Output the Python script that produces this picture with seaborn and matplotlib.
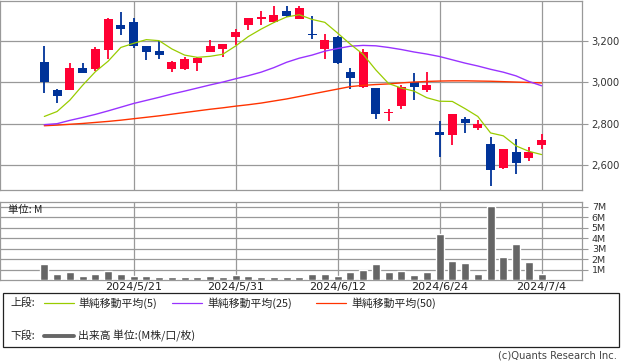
import matplotlib
matplotlib.use("Agg")
import matplotlib.pyplot as plt
from matplotlib.lines import Line2D
from matplotlib.patches import Rectangle
import seaborn as sns
import numpy as np
import pandas as pd

sns.set_theme(style="white")
plt.rcParams['font.family'] = ['DejaVu Sans', 'Noto Sans CJK JP']
CJK = ['Noto Sans CJK JP', 'DejaVu Sans']

# ---------------- data ----------------
dates = ["2024/5/10", "2024/5/13", "2024/5/14", "2024/5/15", "2024/5/16", "2024/5/17",
         "2024/5/20", "2024/5/21", "2024/5/22", "2024/5/23", "2024/5/24", "2024/5/27",
         "2024/5/28", "2024/5/29", "2024/5/30", "2024/5/31", "2024/6/3", "2024/6/4",
         "2024/6/5", "2024/6/6", "2024/6/7", "2024/6/10", "2024/6/11", "2024/6/12",
         "2024/6/13", "2024/6/14", "2024/6/17", "2024/6/18", "2024/6/19", "2024/6/20",
         "2024/6/21", "2024/6/24", "2024/6/25", "2024/6/26", "2024/6/27", "2024/6/28",
         "2024/7/1", "2024/7/2", "2024/7/3", "2024/7/4"]
opens = [3098, 2962, 2962, 3069, 3064, 3157, 3278, 3296, 3175, 3151,
         3064, 3064, 3093, 3146, 3161, 3220, 3278, 3308, 3292, 3345,
         3306, 3235, 3161, 3220, 3049, 2978, 2972, 2852, 2885, 3002,
         2962, 2762, 2746, 2822, 2780, 2701, 2586, 2662, 2634, 2697]
highs = [3175, 2967, 3093, 3093, 3170, 3311, 3340, 3311, 3175, 3200,
         3103, 3122, 3122, 3204, 3185, 3262, 3311, 3345, 3369, 3369,
         3369, 3321, 3233, 3228, 3070, 3161, 2972, 2870, 2986, 3045,
         3049, 2812, 2846, 2833, 2817, 2736, 2676, 2725, 2686, 2749]
lows = [2949, 2901, 2962, 3046, 3054, 3112, 3230, 3167, 3108, 3112,
        3049, 3059, 3054, 3146, 3123, 3182, 3254, 3278, 3287, 3316,
        3306, 3211, 3112, 3088, 2969, 2973, 2822, 2814, 2870, 2915,
        2953, 2639, 2697, 2755, 2770, 2499, 2581, 2557, 2620, 2678]
closes = [3002, 2935, 3069, 3046, 3161, 3306, 3259, 3177, 3146, 3132,
          3098, 3112, 3117, 3175, 3185, 3243, 3311, 3317, 3330, 3321,
          3364, 3231, 3204, 3096, 3022, 3146, 2847, 2856, 2978, 2978,
          2986, 2746, 2846, 2802, 2798, 2576, 2676, 2610, 2662, 2720]
ma5 = [2835, 2859, 2914, 2986, 3052, 3103, 3170, 3190, 3208, 3203,
       3163, 3133, 3122, 3127, 3137, 3177, 3223, 3259, 3291, 3318,
       3329, 3306, 3292, 3240, 3186, 3137, 3061, 2995, 2973, 2958,
       2926, 2909, 2908, 2873, 2835, 2755, 2741, 2692, 2666, 2650]
ma25 = [2795, 2800, 2816, 2830, 2845, 2862, 2880, 2898, 2913, 2928,
        2944, 2958, 2973, 2988, 3002, 3018, 3033, 3050, 3072, 3098,
        3118, 3133, 3152, 3165, 3176, 3180, 3178, 3170, 3160, 3148,
        3138, 3126, 3110, 3094, 3080, 3064, 3050, 3032, 3005, 2984]
ma50 = [2790, 2793, 2797, 2801, 2806, 2811, 2817, 2824, 2831, 2838,
        2846, 2854, 2862, 2870, 2877, 2885, 2892, 2900, 2910, 2920,
        2932, 2944, 2956, 2968, 2980, 2986, 2990, 2993, 2998, 3002,
        3005, 3007, 3008, 3008, 3007, 3006, 3004, 3002, 3000, 2998]
volume = [1.56, 0.61, 0.80, 0.40, 0.61, 0.90, 0.61, 0.40, 0.40, 0.28,
          0.28, 0.28, 0.28, 0.40, 0.28, 0.45, 0.40, 0.28, 0.28, 0.28,
          0.28, 0.61, 0.61, 0.40, 0.80, 0.99, 1.57, 0.80, 0.90, 0.51,
          0.80, 4.43, 1.85, 1.66, 0.61, 7.05, 2.23, 3.47, 1.75, 0.61]
tick_dates = ["2024/5/21", "2024/5/31", "2024/6/12", "2024/6/24", "2024/7/4"]
price_ticks = [2600, 2800, 3000, 3200]
vol_ticks = [1, 2, 3, 4, 5, 6, 7]

df = pd.DataFrame({"date": dates, "open": opens, "high": highs, "low": lows,
                   "close": closes, "ma5": ma5, "ma25": ma25, "ma50": ma50,
                   "volume": volume})
df["idx"] = np.arange(len(df))
tick_pos = [dates.index(d) for d in tick_dates]

# ---------------- style ----------------
UP = "#FF0033"
DOWN = "#003399"
C5 = "#99CC00"
C25 = "#9933FF"
C50 = "#FF3300"
GRID = "#999999"
VOLC = "#666666"

W, H = 638, 362
fig = plt.figure(figsize=(W / 100, H / 100), dpi=100)
fig.patch.set_facecolor("white")

def fx(px):
    return px / W

def fy(py):
    return 1 - py / H

ax = fig.add_axes([0, fy(190), fx(582), (190 - 0.5) / H])
axv = fig.add_axes([0, fy(280), fx(582), 78 / H])

xmin, xmax = -3.475, 42.17

# ---------------- price panel ----------------
up = df["close"] >= df["open"]
colors = np.where(up, UP, DOWN)
ax.vlines(df["idx"], df["low"], df["high"], colors=colors, linewidth=1.3, zorder=3)
body_bot = np.minimum(df["open"], df["close"])
body_h = np.maximum(np.abs(df["close"] - df["open"]), 4)
ax.bar(df["idx"], body_h, bottom=body_bot, width=0.7, color=colors,
       linewidth=0, zorder=4)

sns.lineplot(data=df, x="idx", y="ma50", ax=ax, color=C50, linewidth=1.0, zorder=5)
sns.lineplot(data=df, x="idx", y="ma25", ax=ax, color=C25, linewidth=1.0, zorder=5)
sns.lineplot(data=df, x="idx", y="ma5", ax=ax, color=C5, linewidth=0.9, zorder=6)

ax.set_xlim(xmin, xmax)
ax.set_ylim(2478, 3398)
ax.set_xticks(tick_pos)
ax.set_xticklabels([])
ax.set_yticks(price_ticks)
ax.set_yticklabels([f"{v:,}" for v in price_ticks])
ax.yaxis.tick_right()
ax.tick_params(axis="y", length=4.5, width=0.8, color=GRID, pad=2.5,
               labelsize=7.2, labelcolor="#333333")
ax.tick_params(axis="x", length=0)
ax.grid(True, color=GRID, linewidth=0.9)
ax.set_axisbelow(True)
ax.set_xlabel("")
ax.set_ylabel("")
for s in ax.spines.values():
    s.set_color(GRID)
    s.set_linewidth(0.9)

# ---------------- volume panel ----------------
sns.barplot(data=df, x="idx", y="volume", ax=axv, native_scale=True,
            color=VOLC, saturation=1, width=0.63, errorbar=None, zorder=3)
axv.set_xlim(xmin, xmax)
axv.set_ylim(0, 7.46)
axv.set_xticks(tick_pos)
axv.set_xticklabels(tick_dates, fontsize=8, color="#222222")
axv.set_yticks(vol_ticks)
axv.set_yticklabels([f"{v}M" for v in vol_ticks])
axv.yaxis.tick_right()
axv.tick_params(axis="y", length=4.5, width=0.8, color=GRID, pad=2.5,
                labelsize=6.8, labelcolor="#333333")
axv.tick_params(axis="x", length=0, pad=1.5)
axv.grid(True, color=GRID, linewidth=0.9)
axv.set_axisbelow(True)
axv.set_xlabel("")
axv.set_ylabel("")
for s in axv.spines.values():
    s.set_color(GRID)
    s.set_linewidth(0.9)

fig.text(fx(8), fy(210), "単位: M", fontsize=7.5, family=CJK, va="center",
         ha="left", color="#222222")

# ---------------- legend ----------------
fig.add_artist(Rectangle((fx(3), fy(347)), fx(619) - fx(3), fy(293) - fy(347),
                         transform=fig.transFigure, fill=False,
                         edgecolor="#222222", linewidth=0.9))
r1, r2 = 303, 336
fig.text(fx(10), fy(r1), "上段:", fontsize=7.8, family=CJK, va="center", color="#222222")
fig.add_artist(Line2D([fx(44), fx(74)], [fy(r1)] * 2, color=C5, linewidth=0.9,
                      transform=fig.transFigure))
fig.text(fx(78), fy(r1), "単純移動平均(5)", fontsize=7.8, family=CJK, va="center", color="#222222")
fig.add_artist(Line2D([fx(172), fx(202)], [fy(r1)] * 2, color=C25, linewidth=0.9,
                      transform=fig.transFigure))
fig.text(fx(207), fy(r1), "単純移動平均(25)", fontsize=7.8, family=CJK, va="center", color="#222222")
fig.add_artist(Line2D([fx(316), fx(346)], [fy(r1)] * 2, color=C50, linewidth=0.9,
                      transform=fig.transFigure))
fig.text(fx(351), fy(r1), "単純移動平均(50)", fontsize=7.8, family=CJK, va="center", color="#222222")

fig.text(fx(10), fy(r2), "下段:", fontsize=7.8, family=CJK, va="center", color="#222222")
fig.add_artist(Line2D([fx(44), fx(74)], [fy(r2)] * 2, color=VOLC, linewidth=2.8,
                      transform=fig.transFigure))
fig.text(fx(78), fy(r2), "出来高 単位:(M株/口/枚)", fontsize=7.8, family=CJK, va="center", color="#222222")

fig.text(fx(617), fy(356), "(c)Quants Research Inc.", fontsize=7.2, ha="right",
         va="center", color="#444444")

fig.savefig("out.png", dpi=100, facecolor="white")
